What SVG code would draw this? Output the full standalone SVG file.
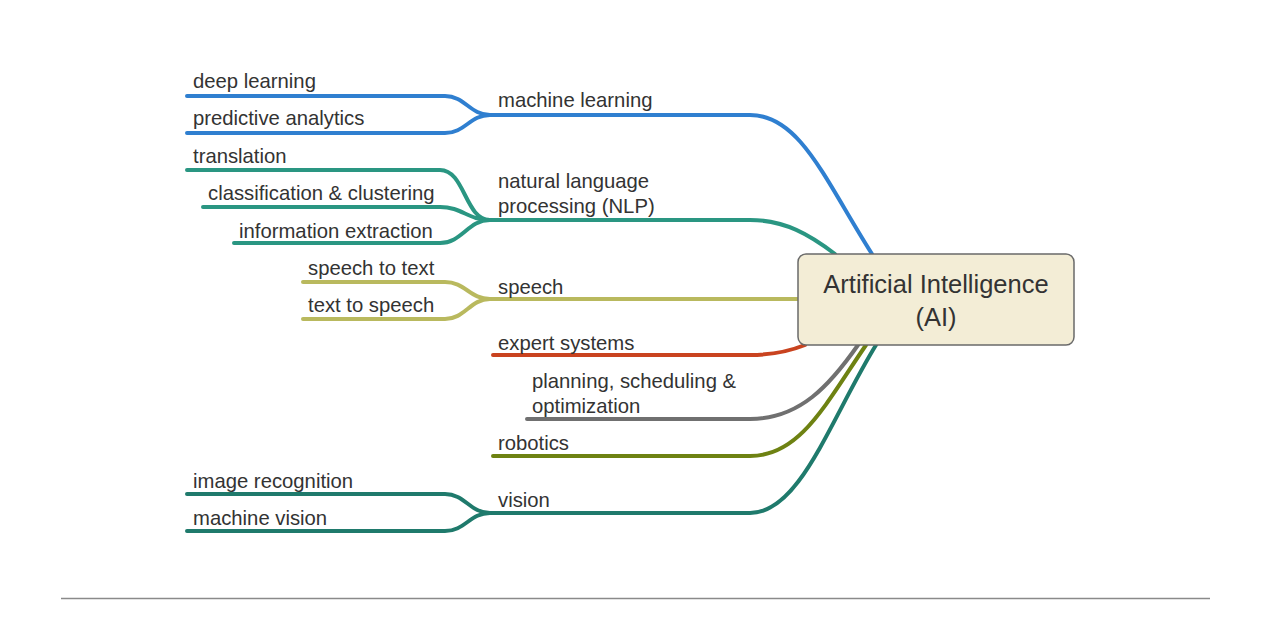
<svg xmlns="http://www.w3.org/2000/svg" width="1277" height="624" viewBox="0 0 1277 624">
<style>
.t{font-family:"Liberation Sans",Arial,sans-serif;font-size:20.3px;fill:#333}
.r{font-family:"Liberation Sans",Arial,sans-serif;font-size:25.5px;fill:#333}
path{fill:none;stroke-width:4;stroke-linecap:round}
.ml{stroke:#2f7fd0}.nlp{stroke:#2a9682}.sp{stroke:#b9b95e}.ex{stroke:#c9431f}.pl{stroke:#707070}.ro{stroke:#6e8212}.vi{stroke:#1f7a6c}
</style>
<rect width="1277" height="624" fill="#fff"/>
<g id="connectors">
<path class="ml" d="M485,115 H750 C800,115 825,180 872,254"/>
<path class="ml" d="M187,96 H445 C465,96 470,115 490,115"/>
<path class="ml" d="M187,133 H445 C465,133 470,115 490,115"/>
<path class="nlp" d="M485,220 H750 C785,220 810,235 835,254"/>
<path class="nlp" d="M187,170 H440 C465,170 465,220 490,220"/>
<path class="nlp" d="M203,207 H440 C462,207 468,220 490,220"/>
<path class="nlp" d="M234,243 H440 C462,243 468,220 490,220"/>
<path class="sp" d="M485,299 H798"/>
<path class="sp" d="M303,282 H445 C465,282 470,299 490,299"/>
<path class="sp" d="M303,319 H445 C465,319 470,299 490,299"/>
<path class="ex" d="M493,355 H750 C775,355 790,351 805,345"/>
<path class="pl" d="M527,419 H750 C800,419 830,385 858,345"/>
<path class="ro" d="M493,456 H750 C800,456 825,405 866,345"/>
<path class="vi" d="M485,513 H750 C800,513 830,420 876,345"/>
<path class="vi" d="M187,494 H445 C465,494 470,513 490,513"/>
<path class="vi" d="M187,531 H445 C465,531 470,513 490,513"/>
</g>
<g id="root">
<rect x="798" y="254" width="276" height="91" rx="8" fill="#f3edd6" stroke="#6a6a6a" stroke-width="1.5"/>
<text class="r" x="936" y="293" text-anchor="middle">Artificial Intelligence</text>
<text class="r" x="936" y="326" text-anchor="middle">(AI)</text>
</g>
<g id="machine-learning"><text class="t" x="498" y="107">machine learning</text></g>
<g id="deep-learning"><text class="t" x="193" y="88">deep learning</text></g>
<g id="predictive-analytics"><text class="t" x="193" y="125">predictive analytics</text></g>
<g id="nlp"><text class="t" x="498" y="188">natural language</text><text class="t" x="498" y="213">processing (NLP)</text></g>
<g id="translation"><text class="t" x="193" y="163">translation</text></g>
<g id="classification"><text class="t" x="208" y="200">classification &amp; clustering</text></g>
<g id="information-extraction"><text class="t" x="239" y="238">information extraction</text></g>
<g id="speech"><text class="t" x="498" y="294">speech</text></g>
<g id="speech-to-text"><text class="t" x="308" y="275">speech to text</text></g>
<g id="text-to-speech"><text class="t" x="308" y="312">text to speech</text></g>
<g id="expert-systems"><text class="t" x="498" y="350">expert systems</text></g>
<g id="planning"><text class="t" x="532" y="388">planning, scheduling &amp;</text><text class="t" x="532" y="413">optimization</text></g>
<g id="robotics"><text class="t" x="498" y="450">robotics</text></g>
<g id="vision"><text class="t" x="498" y="507">vision</text></g>
<g id="image-recognition"><text class="t" x="193" y="488">image recognition</text></g>
<g id="machine-vision"><text class="t" x="193" y="525">machine vision</text></g>
<line x1="61" y1="598.5" x2="1210" y2="598.5" stroke="#8a8a8a" stroke-width="1.5"/>
</svg>
